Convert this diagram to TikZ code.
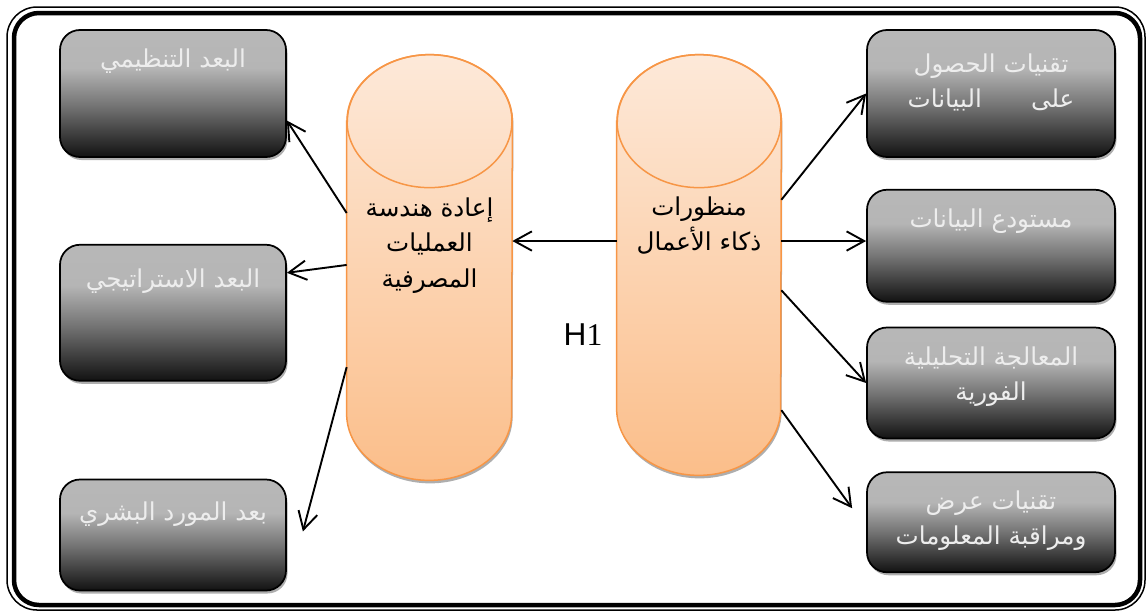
\documentclass[tikz,border=0pt]{standalone}
\usepackage{fontspec}
\usetikzlibrary{positioning,calc,arrows.meta,shadows}
\TeXXeTstate=1
\newfontfamily\arabicfont[Script=Arabic]{DejaVu Sans}
\newfontfamily\hfont{Liberation Sans}
\newfontfamily\onefont{Liberation Serif}
\newcommand\arline[1]{\beginR#1\endR}

\definecolor{cyltop}{RGB}{253,233,217}
\definecolor{cylbot}{RGB}{251,190,138}
\definecolor{cylline}{RGB}{247,150,70}
\pgfdeclareverticalshading{boxshade}{100bp}{color(0bp)=(black!93); color(25bp)=(black!93); color(45bp)=(black!55); color(60bp)=(black!29); color(75bp)=(black!28); color(100bp)=(black!28)}

\tikzset{
  dimbox/.style={draw=black, line width=0.35mm, rounded corners=4mm, shade, shading=boxshade,
    drop shadow={shadow xshift=0.3mm, shadow yshift=-0.6mm, fill=black!45, opacity=.7},
    minimum width=45.2mm, inner sep=0pt},
  dimtext/.style={font=\arabicfont\fontsize{14}{20}\selectfont, text=white!93!black, align=center},
  cylnode/.style={rectangle, inner sep=0pt},
  cylbody/.style={draw=cylline, line width=0.3mm, top color=cyltop, bottom color=cylbot,
    drop shadow={shadow xshift=0.2mm, shadow yshift=-0.6mm, fill=black!45, opacity=.7}},
  cyledge/.style={draw=cylline, line width=0.3mm},
  cyltext/.style={font=\arabicfont\fontsize{14}{20}\selectfont, align=center},
  conn/.style={-{Straight Barb[length=10pt,width=11pt]}, line width=0.38mm}
}

\begin{document}
\begin{tikzpicture}[x=0.2mm, y=0.2mm]
  \useasboundingbox (0,0) rectangle (1148,612);
  % frame
  \draw[line width=0.3mm, rounded corners=6mm] (7,2) rectangle (1145,605);
  \draw[line width=0.9mm, rounded corners=5mm] (14,7) rectangle (1140,599);

  % cylinders
  \node[cylnode, minimum width=33mm, minimum height=85mm] (bpr) at (429.5,344.5) {};
  \node[cylnode, minimum width=32.8mm, minimum height=84mm] (bi) at (699,347) {};
  \foreach \c/\rx in {bpr/16.5mm, bi/16.4mm} {
    \path[cylbody] ([yshift=-13.3mm]\c.north west) -- ([yshift=13.3mm]\c.south west)
      arc[start angle=180, end angle=360, x radius=\rx, y radius=13.3mm]
      -- ([yshift=-13.3mm]\c.north east)
      arc[start angle=0, end angle=180, x radius=\rx, y radius=13.3mm] -- cycle;
    \draw[cyledge] ([yshift=-13.3mm]\c.north) ellipse[x radius=\rx, y radius=13.3mm];
  }
  \node[cyltext] (bpr-t) at ($(bpr.north)+(0,-191)$) {\arline{إعادة هندسة}\\ \arline{العمليات}\\ \arline{المصرفية}};
  \node[cyltext] (bi-t) at ($(bi.north)+(0,-170.5)$) {\arline{منظورات}\\ \arline{ذكاء الأعمال}};

  % left boxes
  \node[dimbox, minimum height=25.4mm] (lb1) at (173,518.5) {};
  \node[dimbox, minimum height=27.2mm, below=17.2mm of lb1] (lb2) {};
  \node[dimbox, minimum height=22.2mm, below=19.4mm of lb2] (lb3) {};
  \node[dimtext] (lb1-t) at ($(lb1.north)+(0,-32)$) {\arline{البعد التنظيمي}};
  \node[dimtext] (lb2-t) at ($(lb2.north)+(0,-37)$) {\arline{البعد الاستراتيجي}};
  \node[dimtext] (lb3-t) at ($(lb3.north)+(0,-36)$) {\arline{بعد المورد البشري}};

  % right boxes
  \node[dimbox, minimum width=49.6mm, minimum height=25.4mm] (rb1) at (991,518.5) {};
  \node[dimbox, minimum width=49.6mm, minimum height=22.4mm, below=6.2mm of rb1] (rb2) {};
  \node[dimbox, minimum width=49.6mm, minimum height=22.2mm, below=4.8mm of rb2] (rb3) {};
  \node[dimbox, minimum width=49.6mm, minimum height=20mm, below=6.4mm of rb3] (rb4) {};
  \node[dimtext] (rb1-t) at ($(rb1.north)+(0,-53.5)$) {\arline{تقنيات الحصول}\\ \arline{على\qquad البيانات}};
  \node[dimtext] (rb2-t) at ($(rb2.north)+(0,-32)$) {\arline{مستودع البيانات}};
  \node[dimtext] (rb3-t) at ($(rb3.north)+(0,-50)$) {\arline{المعالجة التحليلية}\\ \arline{الفورية}};
  \node[dimtext] (rb4-t) at ($(rb4.north)+(0,-49.5)$) {\arline{تقنيات عرض}\\ \arline{ومراقبة المعلومات}};

  \node[font=\hfont\fontsize{18}{20}\selectfont] (h1) at (583,277) {H{\onefont 1}};

  % connectors
  \coordinate (bi-w) at ($(bi.north west)!0.443!(bi.south west)$);
  \coordinate (bi-e) at ($(bi.north east)!0.443!(bi.south east)$);
  \coordinate (rb4-in) at ($(rb4.west)+(-14,14)$);
  \coordinate (lb3-in) at ($(lb3.east)+(16,3.5)$);
  \draw[conn] (bi-w) -- (bi-w -| bpr.east);
  \draw[conn] (bi-e) -- (bi-e -| rb2.west);
  \foreach \f/\t in {0.345/rb1.west, 0.56/rb3.west, 0.845/rb4-in}
    \draw[conn] ($(bi.north east)!\f!(bi.south east)$) -- (\t);
  \draw[conn] ($(bpr.north west)!0.372!(bpr.south west)$) -- ($(lb1.north east)!0.71!(lb1.south east)$);
  \draw[conn] ($(bpr.north west)!0.494!(bpr.south west)$) -- ($(lb2.north east)!0.21!(lb2.south east)$);
  \draw[conn] ($(bpr.north west)!0.734!(bpr.south west)$) -- (lb3-in);
\end{tikzpicture}
\end{document}
